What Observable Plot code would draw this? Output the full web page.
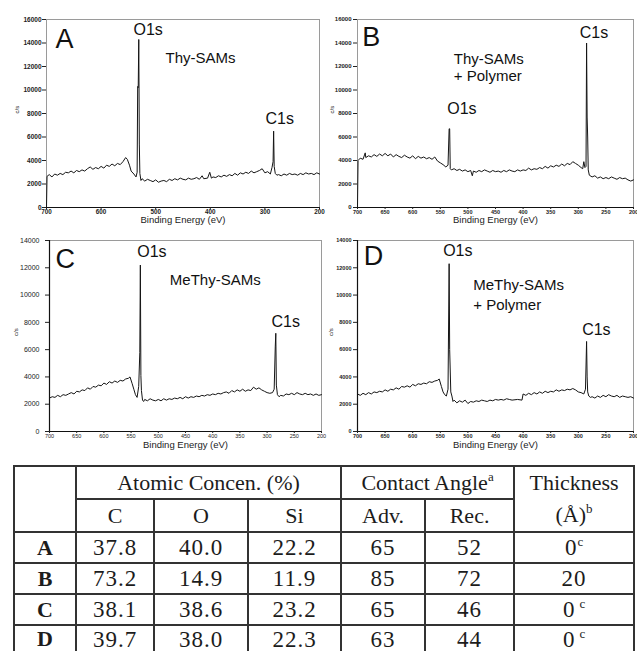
<!DOCTYPE html>
<html><head><meta charset="utf-8">
<script src="https://cdn.jsdelivr.net/npm/d3@7"></script>
<script src="https://cdn.jsdelivr.net/npm/@observablehq/plot@0.6"></script>
<style>
body{margin:0;background:#fff;}
#fig{position:relative;width:637px;height:651px;overflow:hidden;background:#fff;}
.panel{position:absolute;}
.panel svg{overflow:visible;background:transparent !important;}
#tbl{position:absolute;left:13px;top:465px;width:620px;border-collapse:collapse;table-layout:fixed;
 font-family:"Liberation Serif","Times New Roman",serif;font-size:22px;color:#1c1c1c;border:2.5px solid #2a2a2a;}
#tbl td{border:2px solid #333;text-align:center;padding:0;line-height:1;white-space:nowrap;}
#tbl td.lab{font-weight:bold;}
#tbl td.num{font-size:23px;letter-spacing:1px;}
#tbl sup{font-size:13px;line-height:0;vertical-align:9px;letter-spacing:0;}
#tbl .thick{line-height:32px;}
</style></head>
<body>
<div id="fig">
  <div class="panel" id="pA" style="left:0;top:0"></div>
  <div class="panel" id="pB" style="left:325px;top:0"></div>
  <div class="panel" id="pC" style="left:0;top:228px"></div>
  <div class="panel" id="pD" style="left:325px;top:228px"></div>
  <table id="tbl">
    <colgroup><col style="width:62px"><col style="width:78px"><col style="width:94px"><col style="width:93px"><col style="width:84px"><col style="width:89px"><col style="width:120px"></colgroup>
    <tbody id="tb"></tbody>
  </table>
</div>
<script>
// ---------- axis ticks ----------
const ticksX100 = [700, 600, 500, 400, 300, 200];
const ticksX50 = [700, 650, 600, 550, 500, 450, 400, 350, 300, 250, 200];
const ticksY16k = [0, 2000, 4000, 6000, 8000, 10000, 12000, 14000, 16000];
const ticksY14k = [0, 2000, 4000, 6000, 8000, 10000, 12000, 14000];
const xLabel = "Binding Energy (eV)";
const yLabel = "c/s";

// ---------- spectra: [binding energy (eV), counts/s] ----------
const specA = [[700,0],[699,2650],[695,2800],[690,2600],[685,2850],[680,2750],[675,2900],[670,2800],[665,3000],[660,2950],[655,3100],[650,2950],[645,3150],[640,3050],[635,3200],[630,3100],[625,3300],[620,3450],[615,3250],[610,3400],[605,3300],[600,3500],[595,3350],[590,3600],[585,3500],[580,3700],[575,3550],[570,3750],[565,3650],[560,3900],[555,4250],[552,4100],[548,3600],[545,3100],[540,2850],[536,2600],[534,3000],[533,10300],[532,10200],[531,14300],[530,5400],[529,2900],[527,2300],[525,2450],[520,2250],[515,2400],[510,2300],[505,2200],[500,2350],[495,2150],[490,2250],[485,2300],[480,2200],[475,2400],[470,2300],[465,2450],[460,2350],[455,2500],[450,2400],[445,2350],[440,2500],[435,2400],[430,2450],[425,2550],[420,2400],[415,2700],[412,2450],[405,2500],[401,3000],[398,2500],[395,2600],[390,2550],[385,2700],[380,2600],[375,2750],[370,2650],[365,2800],[360,2700],[355,2900],[350,2750],[345,2950],[340,2850],[335,3000],[330,2900],[325,3100],[320,2950],[315,3050],[310,3150],[305,3300],[300,2950],[295,3050],[290,2850],[287,3400],[285,3900],[284,6500],[283,3500],[281,2900],[278,2750],[275,2800],[270,2700],[265,2850],[260,2750],[255,2900],[250,2800],[245,2850],[240,2750],[235,2900],[230,2800],[225,2950],[220,2850],[215,2900],[210,2800],[205,2950],[200,2850]];

const specB = [[700,0],[699,4000],[695,4200],[690,4100],[686,4650],[685,4250],[680,4400],[675,4300],[670,4500],[665,4350],[660,4550],[655,4400],[650,4600],[645,4400],[640,4550],[635,4300],[630,4500],[625,4350],[620,4250],[615,4450],[610,4300],[605,4200],[600,4400],[595,4150],[590,4350],[585,4200],[580,4300],[575,4150],[570,4250],[565,4100],[560,4300],[555,3950],[550,3800],[545,3650],[540,3450],[536,3600],[534,6700],[533,6700],[532,3300],[530,3200],[525,3300],[520,3150],[515,3250],[510,3100],[505,3200],[500,3050],[495,3150],[492,2700],[490,3100],[485,3000],[480,3150],[475,3050],[470,3200],[465,3100],[460,3000],[455,3150],[450,3050],[445,3100],[440,3000],[435,3150],[430,3050],[425,3200],[420,3100],[415,3050],[410,3200],[405,3100],[400,3200],[395,3150],[390,3350],[385,3200],[380,3300],[375,3250],[370,3400],[365,3300],[360,3500],[355,3350],[350,3550],[345,3450],[340,3600],[335,3500],[330,3700],[325,3550],[320,3750],[315,3650],[310,3900],[305,3750],[300,3600],[295,3400],[292,3300],[290,3900],[288,3400],[286,3500],[285,14000],[284,7700],[283,6000],[282,3200],[280,2750],[275,2600],[270,2700],[265,2500],[260,2600],[255,2450],[250,2550],[245,2450],[240,2600],[235,2500],[230,2400],[225,2550],[220,2450],[215,2500],[210,2350],[205,2250],[200,2350]];

const specC = [[700,2450],[695,2550],[690,2500],[685,2650],[680,2550],[675,2700],[670,2650],[665,2750],[660,2850],[655,2750],[650,2950],[645,2900],[640,3050],[635,3000],[630,3200],[625,3100],[620,3300],[615,3250],[610,3400],[605,3350],[600,3550],[595,3450],[590,3650],[585,3550],[580,3700],[575,3600],[570,3750],[565,3700],[560,3850],[555,3900],[552,4000],[548,3500],[545,3100],[542,2700],[539,2500],[536,3300],[534,5800],[533,12200],[532,4100],[531,3000],[529,2300],[527,2200],[525,2350],[520,2250],[515,2400],[510,2300],[505,2250],[500,2350],[495,2250],[490,2400],[485,2300],[480,2400],[475,2350],[470,2450],[465,2400],[460,2500],[455,2400],[450,2550],[445,2450],[440,2550],[435,2500],[430,2600],[425,2550],[420,2650],[415,2600],[410,2700],[405,2650],[400,2750],[395,2700],[390,2800],[385,2750],[380,2850],[375,2900],[370,2800],[365,3000],[360,2900],[355,3050],[350,2950],[345,3100],[340,2950],[335,3050],[330,3000],[325,3250],[320,3100],[315,3200],[310,3050],[305,2950],[300,2850],[295,2800],[290,2850],[287,3100],[285,6200],[284,7200],[283,3400],[281,2700],[278,2550],[275,2650],[270,2600],[265,2750],[260,2700],[255,2800],[250,2700],[245,2850],[240,2750],[235,2700],[230,2800],[225,2700],[220,2750],[215,2650],[210,2750],[205,2650],[200,2700]];

const specD = [[700,2750],[695,2650],[690,2800],[685,2700],[680,2850],[675,2750],[670,2900],[665,2850],[660,2950],[655,2900],[650,3050],[645,2950],[640,3100],[635,3050],[630,3200],[625,3100],[620,3300],[615,3250],[610,3350],[605,3250],[600,3450],[595,3350],[590,3500],[585,3450],[580,3550],[575,3500],[570,3650],[565,3600],[560,3700],[555,3750],[552,3850],[548,3300],[545,2900],[542,2700],[539,2600],[536,3100],[534,12300],[533,6000],[531,2900],[529,2600],[527,2200],[525,2300],[520,2100],[515,2250],[510,2150],[505,2300],[500,2050],[495,2200],[490,2150],[485,2250],[480,2200],[475,2300],[470,2250],[465,2200],[460,2300],[455,2250],[450,2350],[445,2300],[440,2350],[435,2300],[430,2400],[425,2350],[420,2300],[410,2350],[402,2300],[400,2750],[395,2650],[390,2800],[385,2700],[380,2850],[375,2750],[370,2900],[365,2800],[360,2950],[355,2850],[350,2950],[345,2900],[340,3050],[335,2950],[330,3050],[325,3000],[320,3100],[315,3050],[310,3150],[305,3050],[300,2900],[295,2850],[290,2750],[287,3100],[285,6600],[284,4000],[283,2900],[281,2600],[278,2500],[275,2550],[270,2450],[265,2600],[260,2500],[255,2650],[250,2550],[245,2700],[240,2600],[235,2550],[230,2650],[225,2500],[220,2600],[215,2550],[210,2500],[205,2550],[200,2450]];

// ---------- annotations (text anchored at data coordinates: eV, counts) ----------
const letterA = [{t:"A", x:683.5, y:13560}];
const peaksA = [{t:"O1s", x:540.7, y:14660}, {t:"C1s", x:299, y:7120}];
const namesA = [{t:"Thy-SAMs", x:482, y:12290}];
const letterB = [{t:"B", x:691.5, y:13730}];
const peaksB = [{t:"O1s", x:537.5, y:7970}, {t:"C1s", x:297.3, y:14400}];
const namesB = [{t:"Thy-SAMs", x:525.5, y:12250}, {t:"+ Polymer", x:525.5, y:10750}];
const letterC = [{t:"C", x:689, y:12020}];
const peaksC = [{t:"O1s", x:538.8, y:12780}, {t:"C1s", x:292, y:7660}];
const namesC = [{t:"MeThy-SAMs", x:478.8, y:10710}];
const letterD = [{t:"D", x:688.6, y:12170}];
const peaksD = [{t:"O1s", x:544.8, y:12900}, {t:"C1s", x:293, y:7050}];
const namesD = [{t:"MeThy-SAMs", x:490.4, y:10340}, {t:"+ Polymer", x:490.4, y:8880}];

// ---------- table ----------
const rowLabels = ["A", "B", "C", "D"];
const concC = ["37.8", "73.2", "38.1", "39.7"];
const concO = ["40.0", "14.9", "38.6", "38.0"];
const concSi = ["22.2", "11.9", "23.2", "22.3"];
const angleAdv = ["65", "85", "65", "63"];
const angleRec = ["52", "72", "46", "44"];
const thickness = ["0", "20", "0", "0"];
const thicknessNote = ["c", "", "c", "c"];

const FONT = "'Liberation Sans', Arial, sans-serif";

function panel(el, spec, xt, yt, notes, L) {
  const yMax = yt[yt.length - 1];
  const marks = [
    Plot.frame({stroke: "#9a9a9a", strokeWidth: 1}),
    Plot.ruleY([yt[0]], {stroke: "#111", strokeWidth: 1.2}),
    Plot.axisY({ticks: yt, tickFormat: d => String(d), tickSize: L.ytSize, tickPadding: L.ytPad,
      fontSize: L.yFont, fontWeight: L.tickWeight, label: null, stroke: "#222"}),
    Plot.axisX({ticks: xt, tickFormat: d => String(d), tickSize: 2, tickPadding: L.xtPad,
      fontSize: L.xFont, fontWeight: L.tickWeight, label: null, stroke: "#222"}),
    Plot.line(spec, {x: d => d[0], y: d => d[1], stroke: "#151515", strokeWidth: 1}),
    Plot.text([xLabel], {frameAnchor: "bottom", dy: L.xlDy, fontSize: 9.5, fill: "#222"}),
    Plot.text([yLabel], {frameAnchor: "left", dx: L.ylDx, rotate: -90, fontSize: 6, fill: "#222"}),
    Plot.text(notes.letter, {x: "x", y: "y", text: "t", textAnchor: "start", lineAnchor: "bottom", fontSize: 27, fill: "#111"}),
    Plot.text(notes.peaks, {x: "x", y: "y", text: "t", textAnchor: "start", lineAnchor: "bottom", fontSize: 16, fill: "#111"}),
    Plot.text(notes.names, {x: "x", y: "y", text: "t", textAnchor: "start", lineAnchor: "bottom", fontSize: 15, fill: "#111"})
  ];
  if (L.leftRule) marks.splice(1, 0, Plot.ruleX([xt[0]], {stroke: "#111", strokeWidth: 1.2}));
  const p = Plot.plot({
    width: L.w, height: L.h,
    marginLeft: L.ml, marginRight: L.mr, marginTop: L.mt, marginBottom: L.mb,
    style: {background: "transparent", overflow: "visible", fontFamily: FONT, color: "#222"},
    x: {domain: [xt[0], xt[xt.length - 1]]},
    y: {domain: [yt[0], yMax]},
    marks
  });
  document.getElementById(el).appendChild(p);
}

panel("pA", specA, ticksX100, ticksY16k, {letter: letterA, peaks: peaksA, names: namesA},
  {w: 325, h: 230, ml: 46, mr: 6, mt: 19, mb: 23, ytSize: 4, ytPad: 1, yFont: 6.5, xFont: 6.3, xtPad: 0,
   tickWeight: "bold", xlDy: 15.5, ylDx: -29, leftRule: false});
panel("pB", specB, ticksX50, ticksY16k, {letter: letterB, peaks: peaksB, names: namesB},
  {w: 312, h: 230, ml: 32, mr: 4, mt: 19, mb: 23, ytSize: 4, ytPad: 2, yFont: 6, xFont: 5.5, xtPad: 1,
   tickWeight: "bold", xlDy: 15.5, ylDx: -25, leftRule: false});
panel("pC", specC, ticksX50, ticksY14k, {letter: letterC, peaks: peaksC, names: namesC},
  {w: 325, h: 225, ml: 49, mr: 4, mt: 12, mb: 22, ytSize: 4, ytPad: 6, yFont: 7, xFont: 5.5, xtPad: 1,
   tickWeight: "normal", xlDy: 16, ylDx: -33, leftRule: true});
panel("pD", specD, ticksX50, ticksY14k, {letter: letterD, peaks: peaksD, names: namesD},
  {w: 312, h: 225, ml: 32, mr: 4, mt: 12, mb: 22, ytSize: 4, ytPad: 2, yFont: 5.5, xFont: 5.5, xtPad: 1,
   tickWeight: "bold", xlDy: 16, ylDx: -26, leftRule: true});

// table
const tb = document.getElementById("tb");
const rowH = [31, 31, 31, 28];
let html = '<tr style="height:32px"><td rowspan="2"></td><td colspan="3">Atomic Concen. (%)</td>' +
  '<td colspan="2">Contact Angle<sup>a</sup></td><td rowspan="2" class="thick">Thickness<br>(Å)<sup>b</sup></td></tr>' +
  '<tr style="height:32px"><td>C</td><td>O</td><td>Si</td><td>Adv.</td><td>Rec.</td></tr>';
rowLabels.forEach((r, i) => {
  const th = thickness[i] + (thicknessNote[i] ? `<sup${i >= 2 ? ' style="margin-left:4px"' : ''}>${thicknessNote[i]}</sup>` : "");
  html += `<tr style="height:${rowH[i]}px"><td class="lab">${r}</td><td class="num">${concC[i]}</td><td class="num">${concO[i]}</td><td class="num">${concSi[i]}</td>` +
    `<td class="num">${angleAdv[i]}</td><td class="num">${angleRec[i]}</td><td class="num">${th}</td></tr>`;
});
tb.innerHTML = html;
</script>
</body></html>
